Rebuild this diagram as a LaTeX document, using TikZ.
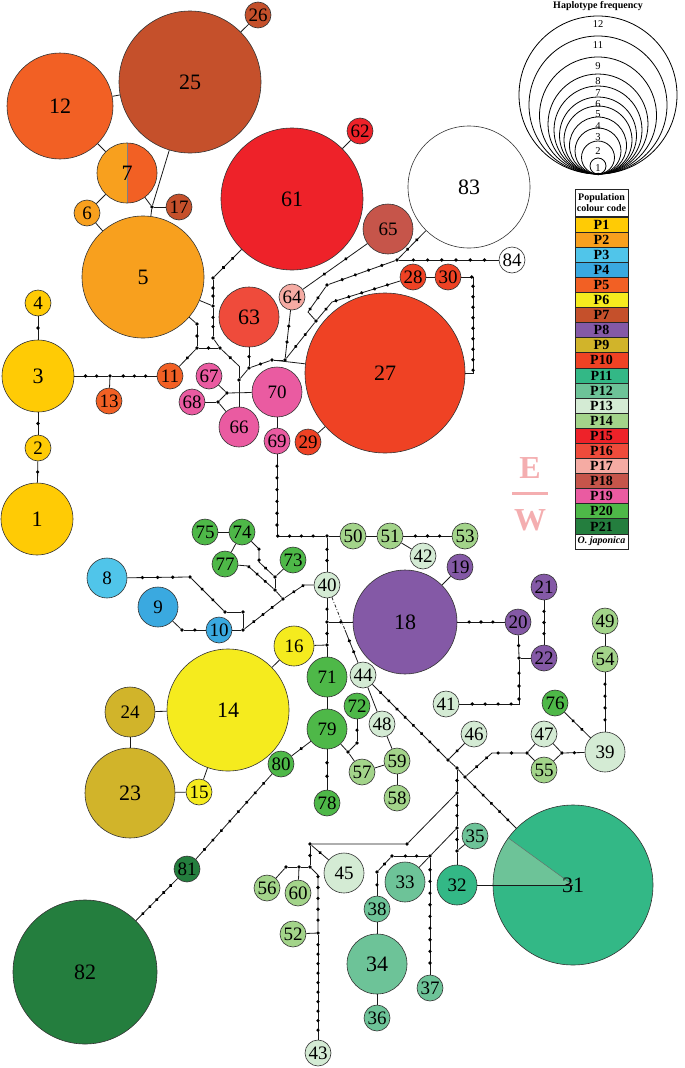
\documentclass[tikz,border=0pt]{standalone}
\usepackage{fontspec}
\setmainfont{Liberation Serif}
\usetikzlibrary{decorations.markings}
\definecolor{P1}{HTML}{FFCB05}
\definecolor{P2}{HTML}{F8A01E}
\definecolor{P3}{HTML}{50C5EA}
\definecolor{P4}{HTML}{3AA9E0}
\definecolor{P5}{HTML}{F26024}
\definecolor{P6}{HTML}{F5EB1E}
\definecolor{P7}{HTML}{C5502B}
\definecolor{P8}{HTML}{8459A6}
\definecolor{P9}{HTML}{D1B42A}
\definecolor{P10}{HTML}{EF4224}
\definecolor{P11}{HTML}{33B886}
\definecolor{P12}{HTML}{6DC398}
\definecolor{P13}{HTML}{D4EBD4}
\definecolor{P14}{HTML}{A3D48A}
\definecolor{P15}{HTML}{EE2229}
\definecolor{P16}{HTML}{EF4B3B}
\definecolor{P17}{HTML}{F5ABA3}
\definecolor{P18}{HTML}{C6554A}
\definecolor{P19}{HTML}{EA5BA1}
\definecolor{P20}{HTML}{4EB848}
\definecolor{P21}{HTML}{247E3E}
\definecolor{ewpink}{HTML}{F4AEB0}

\begin{document}
\begin{tikzpicture}[x=1pt, y=-1pt,
  hap/.style={circle, draw=black!80, line width=0.6pt, inner sep=0pt, font=\fontsize{19}{19}\selectfont},
  big/.style={font=\fontsize{22}{22}\selectfont},
  mv/.style={circle, fill=black, inner sep=0pt, minimum size=3.8pt},
  link/.style={line width=0.8pt, black!90},
  mut/.style={postaction={decorate, decoration={markings, mark=between positions 1/(#1+1) and #1/(#1+1)+0.001 step 1/(#1+1) with {\fill[black] (0,0) circle[radius=1.8pt];}}}},
  cell/.style={draw=black!85, line width=0.8pt, minimum width=53pt, minimum height=15.09pt, inner sep=0pt, font=\bfseries\fontsize{14}{14}\selectfont},
  ewlbl/.style={text=ewpink, font=\bfseries\fontsize{32}{32}\selectfont}
]
\useasboundingbox (0,0) rectangle (685,1068);

% haplotypes
\foreach \n/\x/\y/\col in {2/38/448/P1, 4/38/303/P1, 6/87/213/P2, 10/219/630/P4, 11/170/376/P5,
  13/109/401/P5, 15/199/792/P6, 17/179/207/P7, 19/460/567/P8, 20/518/622/P8, 21/544/587/P8,
  22/544/658/P8, 26/258/15/P7, 28/413/277/P10, 29/308/442/P10, 30/448/277/P10, 35/475/836/P12,
  36/377/1018/P12, 37/430/988/P12, 38/377/909/P12, 40/327/585/P13, 41/446/704/P13, 42/423/556/P13,
  43/318/1053/P13, 44/363/675/P13, 46/474/734/P13, 47/544/734/P13, 48/382/724/P13, 49/605/621/P14,
  50/353/536/P14, 51/390/536/P14, 52/293/934/P14, 53/465/536/P14, 54/605/659/P14, 55/544/770/P14,
  56/267/888/P14, 57/362/772/P14, 58/397/798/P14, 59/397/761/P14, 60/298/893/P14, 62/360/131/P15,
  64/292/297/P17, 67/209/376/P19, 68/192/402/P19, 69/277/441/P19, 72/357/706/P20, 73/293/560/P20,
  74/242/532/P20, 75/205/532/P20, 76/555/703/P20, 77/225/564/P20, 78/327/803/P20, 80/281/764/P20,
  81/187/869/P21, 84/512/260/white}
  \node[hap, fill=\col, minimum size=26pt] (h\n) at (\x,\y) {\n};
\foreach \n/\x/\y/\dia/\col in {8/107/578/40/P3, 9/158/607/40/P4, 16/294/646/40/P6, 24/130/712/50/P9,
  32/457/885/40/P11, 33/405/882/40/P12, 39/605/752/40/P13, 45/344/873/40/P13, 65/388/229/50/P18,
  66/239/427/40/P19, 70/277/392/50/P19, 71/327/677/40/P20, 79/327/729/40/P20}
  \node[hap, fill=\col, minimum size=\dia pt] (h\n) at (\x,\y) {\n};
\foreach \n/\x/\y/\dia/\col in {1/37/519/72/P1, 3/38/376/72/P1, 5/143/277/122/P2, 12/60/106/106/P5,
  14/228/710/122/P6, 18/405/622/104/P8, 23/130/793/90/P9, 25/190/82/142/P7, 27/385/373/160/P10,
  34/377/964/60/P12, 61/292/199/142/P15, 63/249/317/60/P16, 82/85/972/144/P21, 83/469/187/122/white}
  \node[hap, big, fill=\col, minimum size=\dia pt] (h\n) at (\x,\y) {\n};
\node[hap, big, fill=P2, minimum size=60pt, path picture={
  \fill[P5] (path picture bounding box.north) rectangle (path picture bounding box.south east);
  \draw[black!50, line width=0.4pt] (path picture bounding box.north) -- (path picture bounding box.south);}]
  (h7) at (127,173) {7};
\node[hap, big, fill=P11, minimum size=160pt, path picture={
  \fill[P12] (path picture bounding box.center) -- +(180:100pt) -- +(144:100pt) -- cycle;}]
  (h31) at (573,885) {31};

% median vectors
\foreach \n/\x/\y in {m7/152/207, m13/110/376, mA1/197/324, mA/197/348, mT/220/348, mB1/213/278,
  mB3/213/306, mB2/213/338, mV/239/380, mU/249/368, mX/272/360, mY/285/360, mZ/316/321,
  mZ2/327/285, m84/397/260, mC/227/393, mD/218/402, m50/327/536, mF/327/622, mG/327/645,
  mI/348/752, mI2/357/743, mJ/448/760, mK/457/768, mL/465/777, mO/527/753, mP/562/753,
  mQ/519/658, mM1/457/793, mM2/457/828, mM3/457/851, mM4/430/856, mM5/392/856, mM6/377/872,
  mN/310/844, mN2/407/844, mR/310/867, mR2/299/867, mR3/286/867, mS/318/933, mW1/190/577,
  mW2/225/612, mW4/243/612, mW3/243/630, mW5/182/630, mR0/283/599, mS1/275/577, mS2/275/590}
  \node[mv] (\n) at (\x,\y) {};
\coordinate (mT2) at (239,366);
\coordinate (m44) at (345,630);

% connections
\path[link]
(h12) edge (h25)
(h25) edge (h26)
(h12) edge (h7)
(h7) edge (h6)
(h6) edge (h5)
(m7) edge (h7) edge (h17) edge (h25) edge (h5)
(h61) edge (h62)
(h4) edge[mut=1] (h3)
(h3) edge[mut=1] (h2)
(h2) edge[mut=1] (h1)
(h3) edge[mut=2] (m13)
(m13) edge[mut=3] (h11) edge (h13)
(h5) edge (mA1) edge (mB3)
(mA1) edge[mut=1] (mA)
(mA) edge[mut=1] (h11) edge[mut=1] (mT)
(h61) edge[mut=2] (mB1)
(mB1) edge[mut=2] (mB3)
(mB3) edge[mut=2] (mB2)
(mB2) edge (mT)
(mT) edge[mut=1] (mT2)
(mT2) edge (mV)
(h63) edge[mut=1] (mU)
(mU) edge (mV) edge[mut=1] (mX)
(mV) edge (h66)
(mX) edge (h27) edge (mY)
(mY) edge[mut=2] (h64) edge[mut=2] (mZ)
(h65) edge[mut=2] (h64)
(mZ2) edge[mut=4] (m84)
(m84) edge[mut=6] (h84) edge[mut=2] (h83)
(h28) edge (h30)
(h29) edge (h27)
(h70) edge (h69)
(mC) edge (h67) edge (h70)
(mD) edge (h68) edge (mC) edge (h66)
(m50) edge (h50) edge[mut=2] (h40)
(h50) edge (h51)
(h51) edge[mut=3] (h53) edge (h42)
(h40) edge[mut=1] (mF)
(mF) edge[mut=1] (mG) edge[mut=1] (h18)
(mG) edge (h71) edge (h16)
(h71) edge (h79)
(h79) edge[mut=2] (h78) edge[mut=1] (h80) edge (mI)
(h80) edge[mut=8] (h81)
(h81) edge[mut=5] (h82)
(mI) edge (h57) edge (mI2)
(mI2) edge[mut=1] (h72)
(h44) edge (h48)
(h48) edge (h59)
(h59) edge (h57) edge (h58)
(h44) edge[mut=8] (mJ)
(mJ) edge (mK) edge[mut=1] (h46)
(mK) edge (mL) edge[mut=1] (mM1)
(mL) edge[mut=5] (h31)
(mO) edge (h47) edge (h55)
(mP) edge (h47) edge (h55) edge[mut=1] (h39)
(h76) edge[mut=2] (h39)
(h54) edge[mut=4] (h39)
(h49) edge (h54)
(h18) edge (h19) edge[mut=3] (h20)
(h20) edge[mut=1] (mQ)
(mQ) edge (h22)
(h21) edge[mut=3] (h22)
(mM1) edge[mut=2] (mM2)
(mM2) edge[mut=1] (mM3) edge (mM4)
(mM3) edge (h32) edge (h35)
(mM4) edge (h33) edge[mut=2] (mM5) edge[mut=9] (h37)
(mM5) edge[mut=1] (mM6)
(mM6) edge[mut=1] (h38)
(h38) edge (h34)
(h34) edge (h36)
(mN) edge[mut=1] (h45) edge[mut=1] (mR)
(mR) edge (mR2)
(mR2) edge (h60) edge (mR3)
(mR3) edge (h56)
(mS) edge (h52) edge[mut=10] (h43)
(h8) edge[mut=3] (mW1)
(mW1) edge[mut=2] (mW2)
(mW2) edge (mW4)
(mW4) edge (mW3)
(mW3) edge (h10) edge[mut=3] (mR0)
(h9) edge (mW5)
(mW5) edge[mut=1] (h10)
(mS1) edge (h73) edge (mS2)
(mS2) edge (mR0)
(h75) edge (h74)
(h74) edge (h77)
(h14) edge (h16) edge (h24) edge (h15)
(h24) edge (h23)
(h23) edge (h15)
;
\draw[link, mut=2] (mZ) -- (308,312) -- (mZ2);
\draw[link, mut=6] (mZ) -- (332,302) -- (h28);
\draw[link, mut=10] (h30) -- (473,277) -- (473,373) -- (h27);
\draw[link, mut=10] (h69) -- (277,536) -- (m50);
\draw[link, dash pattern=on 3pt off 2pt on 0.8pt off 2pt] (h40) -- (m44);
\draw[link, mut=2] (m44) -- (h44);
\draw[link, mut=4] (mL) -- (492,753) -- (mO);
\draw[link, mut=7] (mQ) -- (519,704) -- (h41);
\draw[link] (mM1) -- (mN2) -- (mN);
\draw[link, mut=5] (mR) -- (318,875) -- (mS);
\draw[link, mut=2] (mR0) -- (304,585) -- (h40);
\draw[link, mut=3] (h74) -- (259,549) -- (259,562) -- (mS1);
\draw[link, mut=3] (h77) -- (248,566) -- (mS2);
\draw[link] (h32) -- (h31.center);
\draw[black!60, line width=0.4pt] (h31.center) -- +(144:80pt);

% E / W
\node[ewlbl] (lblE) at (530,468) {E};
\node[ewlbl] (lblW) at (530,520) {W};
\draw[ewpink, line width=3pt] (512,493) -- (548,493);

% frequency legend
\node[font=\bfseries\fontsize{10}{10}\selectfont] (frqtitle) at (598,6) {Haplotype frequency};
\foreach \r/\ly/\t in {79/24/12, 69/45/11, 58.5/66/9, 50/81/8, 44/93/7, 38.5/104/6, 34/114/5,
  28.5/126/4, 23/137/3, 16.5/151/2, 8/168/1}
{
  \draw[line width=0.8pt] (598,{174-\r}) circle[radius=\r pt];
  \node[font=\fontsize{10.5}{10.5}\selectfont, inner sep=0pt] (frq\t) at (598,\ly) {\t};
}
\fill (598,174) circle[radius=1.5pt];

% colour code
\node[cell, font=\bfseries\fontsize{10}{11}\selectfont, align=center, minimum height=27pt] (tabhead) at (601.5,202.5) {Population\\colour code};
\foreach \i in {1,...,21}
  \node[cell, fill=P\i] (row\i) at (601.5,{209.5+15.09*\i}) {P\i};
\node[cell, font=\bfseries\itshape\fontsize{10}{10}\selectfont] (row22) at (601.5,{209.5+15.09*22}) {O. japonica};
\end{tikzpicture}
\end{document}
